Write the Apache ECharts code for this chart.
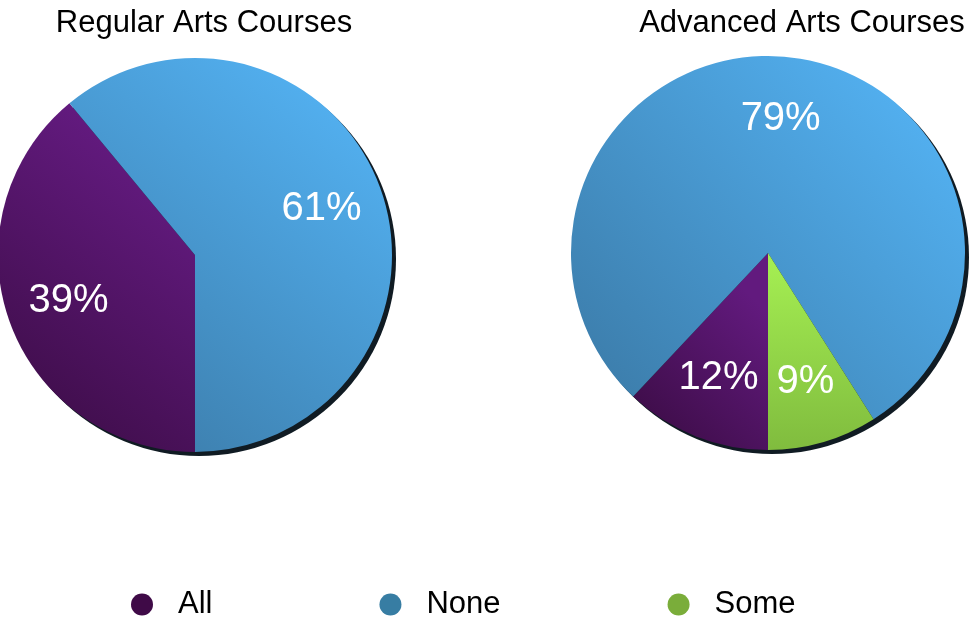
<!DOCTYPE html>
<html>
<head>
<meta charset="utf-8">
<script src="https://cdn.jsdelivr.net/npm/echarts@6/dist/echarts.min.js"></script>
<style>
    html, body { margin: 0; padding: 0; background: #fff; }
    #arts { width: 969px; height: 617px; }
</style>
</head>
<body>
<div id="arts"></div>
<script>
var categories = ['All', 'None', 'Some'];
var regularValues = [39, 61];
var advancedValues = [12, 79, 9];
var chartTitles = ['Regular Arts Courses', 'Advanced Arts Courses'];

var legendColors = { All: '#3f0a47', None: '#377da3', Some: '#7aad3a' };
var fills = {
    All: { type: 'linear', x: 0, y: 1, x2: 1, y2: 0.3, colorStops: [{ offset: 0, color: '#380b40' }, { offset: 1, color: '#621a7e' }] },
    None: { type: 'linear', x: 0, y: 1, x2: 1, y2: 0, colorStops: [{ offset: 0, color: '#3a78a4' }, { offset: 1, color: '#56b8fb' }] },
    Some: { type: 'linear', x: 0, y: 0, x2: 0, y2: 1, colorStops: [{ offset: 0, color: '#a6f053' }, { offset: 1, color: '#80bc3e' }] }
};
var font = 'Liberation Sans, Arial, Helvetica, sans-serif';

function pieData(values, withFill) {
    return values.map(function (v, i) {
        var item = { name: categories[i], value: v };
        item.itemStyle = { color: withFill ? fills[categories[i]] : 'rgba(0,0,0,0)' };
        return item;
    });
}

function sum(values) {
    return values.reduce(function (a, b) { return a + b; }, 0);
}

// one pie = dark backdrop (edge), filled slices, and a label ring
function pieSeries(values, cx, cy) {
    var r = 197;
    return [
        {
            type: 'pie', silent: true, z: 1,
            center: [cx + 4, cy + 4], radius: r,
            data: [{ name: 'edge', value: sum(values), itemStyle: { color: '#101b23' } }],
            label: { show: false }, labelLine: { show: false },
            emphasis: { disabled: true }
        },
        {
            type: 'pie', silent: true, z: 2,
            center: [cx, cy], radius: r,
            startAngle: 270, clockwise: true,
            data: pieData(values, true),
            label: { show: false }, labelLine: { show: false },
            emphasis: { disabled: true }
        },
        {
            type: 'pie', silent: true, z: 3,
            center: [cx, cy], radius: [66, r],
            startAngle: 270, clockwise: true,
            avoidLabelOverlap: false,
            data: pieData(values, false),
            label: {
                show: true, position: 'inside',
                formatter: '{c}%',
                color: '#fff', fontSize: 40, fontFamily: font
            },
            labelLine: { show: false },
            emphasis: { disabled: true }
        }
    ];
}

var myChart = echarts.init(document.getElementById('arts'));
myChart.setOption({
    animation: false,
    title: [
        { text: chartTitles[0], left: 199, top: 3, textAlign: 'center',
          textStyle: { fontSize: 31, fontWeight: 'normal', color: '#000', fontFamily: font } },
        { text: chartTitles[1], left: 797, top: 3, textAlign: 'center',
          textStyle: { fontSize: 31, fontWeight: 'normal', color: '#000', fontFamily: font } }
    ],
    legend: {
        left: 126,
        top: 584,
        icon: 'circle',
        itemWidth: 22,
        itemHeight: 22,
        itemGap: 167,
        selectedMode: false,
        textStyle: { fontSize: 31, color: '#000', fontFamily: font, padding: [0, 0, 0, 20] },
        data: categories.map(function (c) {
            return { name: c, itemStyle: { color: legendColors[c] } };
        })
    },
    series: pieSeries(regularValues, 195, 255).concat(pieSeries(advancedValues, 768, 253))
});
</script>
</body>
</html>
